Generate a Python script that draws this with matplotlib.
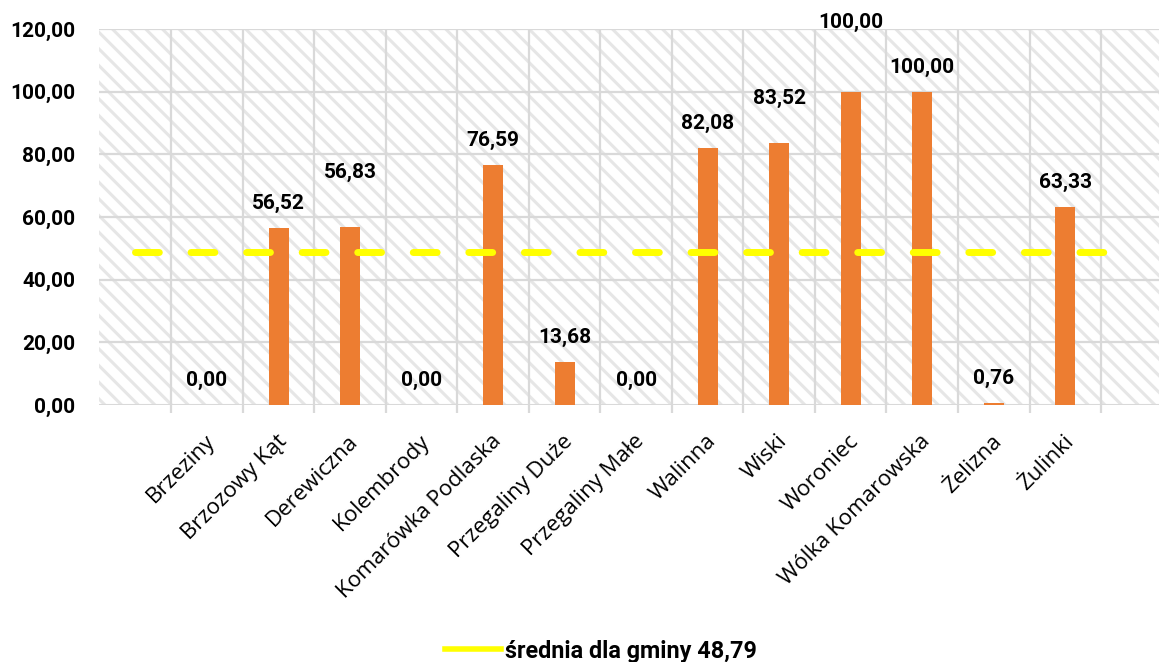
"""
Wykres słupkowy: wartości dla miejscowości gminy + linia średniej.
"""
import matplotlib
matplotlib.use("Agg")
import matplotlib.pyplot as plt
import matplotlib.transforms as mtransforms
import numpy as np
from matplotlib.lines import Line2D
from matplotlib.patches import Rectangle

# dane
categories = [
    "Brzeziny", "Brzozowy Kąt", "Derewiczna", "Kolembrody", "Komarówka Podlaska",
    "Przegaliny Duże", "Przegaliny Małe", "Walinna", "Wiski", "Woroniec",
    "Wólka Komarowska", "Żelizna", "Żulinki",
]
values = [0.00, 56.52, 56.83, 0.00, 76.59, 13.68, 0.00, 82.08, 83.52, 100.00, 100.00, 0.76, 63.33]
average = 48.79
legend_label = "średnia dla gminy 48,79"
y_ticks = [0, 20, 40, 60, 80, 100, 120]

# style
BAR_COLOR = "#ED7D31"
LINE_COLOR = "#FFFF00"
GRID_COLOR = "#D9D9D9"
NUM_FONT = "Roboto"
CAT_FONT = ["Open Sans", "DejaVu Sans"]
# etykiety przesunięte wyżej niż standardowo (w punktach)
label_nudge = {"Derewiczna": 22, "Wiski": 15, "Woroniec": 32}


def fmt(v):
    return f"{v:.2f}".replace(".", ",")


fig = plt.figure(figsize=(11.59, 6.62), dpi=100)
ax = fig.add_axes([99 / 1159, 1 - 405 / 662, 1060 / 1159, 376 / 662])

x = np.arange(len(categories))
ax.set_xlim(-1.51, 13.31)
ax.set_ylim(0, 120)

# kreskowane tło
plt.rcParams["hatch.linewidth"] = 2.2
plt.rcParams["hatch.color"] = "#E6E6E6"
ax.add_patch(Rectangle((0, 0), 1, 1, transform=ax.transAxes, facecolor="white",
                       edgecolor="#E6E6E6", hatch="\\\\", linewidth=0, zorder=0))

# siatka
for yt in y_ticks:
    ax.axhline(yt, color=GRID_COLOR, lw=1.6 if yt else 2.2, zorder=1)
for b in np.arange(-0.5, 13.0, 1.0):
    ax.axvline(b, color=GRID_COLOR, lw=1.6, zorder=1)

ax.bar(x, values, width=0.28, color=BAR_COLOR, zorder=3)

ax.plot([-1, 12.9], [average, average], color=LINE_COLOR, lw=5.0,
        linestyle=(0, (3.43, 4.57)), dash_capstyle="round", zorder=4)

for xi, v, name in zip(x, values, categories):
    ax.annotate(fmt(v), (xi, v), xytext=(0, 17.5 + label_nudge.get(name, 0)),
                textcoords="offset points", ha="center", va="center",
                fontsize=15, fontweight="bold", family=NUM_FONT, color="black",
                zorder=5)

for s in ax.spines.values():
    s.set_visible(False)

ax.set_yticks(y_ticks)
ax.set_yticklabels([fmt(t) for t in y_ticks], fontsize=15, fontweight="bold",
                   family=NUM_FONT)
ax.tick_params(axis="y", length=0, pad=17)

ax.set_xticks(x)
ax.set_xticklabels(categories, rotation=45, ha="right", va="center",
                   rotation_mode="anchor", fontsize=16, family=CAT_FONT)
ax.set_xticks(np.arange(-0.5, 13.0, 1.0), minor=True)
ax.tick_params(axis="x", which="major", length=0, pad=24)
ax.tick_params(axis="x", which="minor", length=6, width=1.6, color=GRID_COLOR)
# lekkie przesunięcie etykiet kategorii w prawo
shift = mtransforms.ScaledTranslation(5 / 100, 0, fig.dpi_scale_trans)
for lbl in ax.get_xticklabels():
    lbl.set_transform(lbl.get_transform() + shift)

handle = Line2D([0], [0], color=LINE_COLOR, lw=4)
fig.legend([handle], [legend_label], loc="center", bbox_to_anchor=(0.5186, 0.0166),
           frameon=False, handlelength=2.4, handletextpad=0.2,
           prop={"family": NUM_FONT, "weight": "bold", "size": 16.8})

fig.savefig("out.png", dpi=100)
